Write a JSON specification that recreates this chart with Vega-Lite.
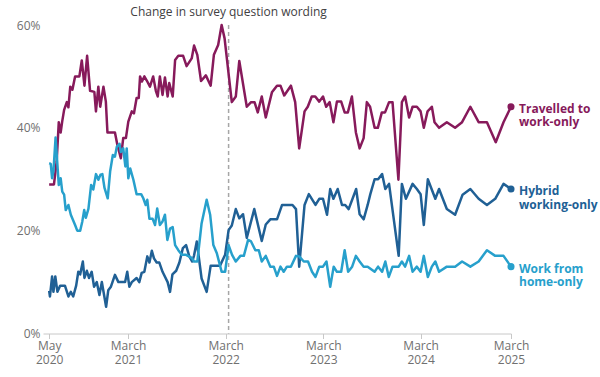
{
  "$schema": "https://vega.github.io/schema/vega-lite/v6.json",
  "width": 468,
  "height": 308.5,
  "autosize": {"type": "none"},
  "padding": {"left": 43, "top": 25, "right": 89, "bottom": 43.5},
  "config": {"view": {"stroke": null}, "font": "Open Sans"},
  "data": {
    "format": {"parse": {"date": "date"}},
    "values": [
      {"series": "Travelled to work-only", "date": "2020-05-10", "value": 29.0},
      {"series": "Travelled to work-only", "date": "2020-05-28", "value": 29.0},
      {"series": "Travelled to work-only", "date": "2020-06-07", "value": 33.4},
      {"series": "Travelled to work-only", "date": "2020-06-15", "value": 41.1},
      {"series": "Travelled to work-only", "date": "2020-06-22", "value": 39.1},
      {"series": "Travelled to work-only", "date": "2020-06-28", "value": 41.3},
      {"series": "Travelled to work-only", "date": "2020-07-05", "value": 43.5},
      {"series": "Travelled to work-only", "date": "2020-07-15", "value": 45.0},
      {"series": "Travelled to work-only", "date": "2020-07-21", "value": 44.0},
      {"series": "Travelled to work-only", "date": "2020-07-28", "value": 48.0},
      {"series": "Travelled to work-only", "date": "2020-08-05", "value": 47.4},
      {"series": "Travelled to work-only", "date": "2020-08-15", "value": 50.0},
      {"series": "Travelled to work-only", "date": "2020-08-31", "value": 50.0},
      {"series": "Travelled to work-only", "date": "2020-09-09", "value": 53.1},
      {"series": "Travelled to work-only", "date": "2020-09-19", "value": 48.2},
      {"series": "Travelled to work-only", "date": "2020-09-29", "value": 54.0},
      {"series": "Travelled to work-only", "date": "2020-10-10", "value": 47.2},
      {"series": "Travelled to work-only", "date": "2020-10-26", "value": 47.0},
      {"series": "Travelled to work-only", "date": "2020-11-01", "value": 43.2},
      {"series": "Travelled to work-only", "date": "2020-11-10", "value": 48.0},
      {"series": "Travelled to work-only", "date": "2020-11-17", "value": 44.1},
      {"series": "Travelled to work-only", "date": "2020-11-29", "value": 48.0},
      {"series": "Travelled to work-only", "date": "2020-12-08", "value": 45.1},
      {"series": "Travelled to work-only", "date": "2020-12-14", "value": 39.1},
      {"series": "Travelled to work-only", "date": "2021-01-11", "value": 39.1},
      {"series": "Travelled to work-only", "date": "2021-01-20", "value": 36.7},
      {"series": "Travelled to work-only", "date": "2021-02-02", "value": 34.1},
      {"series": "Travelled to work-only", "date": "2021-02-11", "value": 38.0},
      {"series": "Travelled to work-only", "date": "2021-02-21", "value": 38.0},
      {"series": "Travelled to work-only", "date": "2021-03-02", "value": 41.2},
      {"series": "Travelled to work-only", "date": "2021-03-15", "value": 43.2},
      {"series": "Travelled to work-only", "date": "2021-03-23", "value": 42.8},
      {"series": "Travelled to work-only", "date": "2021-04-02", "value": 45.8},
      {"series": "Travelled to work-only", "date": "2021-04-10", "value": 45.8},
      {"series": "Travelled to work-only", "date": "2021-04-15", "value": 50.0},
      {"series": "Travelled to work-only", "date": "2021-04-22", "value": 49.0},
      {"series": "Travelled to work-only", "date": "2021-05-01", "value": 50.0},
      {"series": "Travelled to work-only", "date": "2021-05-10", "value": 49.2},
      {"series": "Travelled to work-only", "date": "2021-05-22", "value": 48.0},
      {"series": "Travelled to work-only", "date": "2021-06-03", "value": 50.0},
      {"series": "Travelled to work-only", "date": "2021-06-13", "value": 47.2},
      {"series": "Travelled to work-only", "date": "2021-06-20", "value": 46.1},
      {"series": "Travelled to work-only", "date": "2021-06-28", "value": 50.0},
      {"series": "Travelled to work-only", "date": "2021-07-08", "value": 46.4},
      {"series": "Travelled to work-only", "date": "2021-07-17", "value": 49.8},
      {"series": "Travelled to work-only", "date": "2021-07-27", "value": 46.1},
      {"series": "Travelled to work-only", "date": "2021-08-02", "value": 48.7},
      {"series": "Travelled to work-only", "date": "2021-08-15", "value": 46.1},
      {"series": "Travelled to work-only", "date": "2021-08-24", "value": 53.2},
      {"series": "Travelled to work-only", "date": "2021-09-05", "value": 54.0},
      {"series": "Travelled to work-only", "date": "2021-09-23", "value": 54.0},
      {"series": "Travelled to work-only", "date": "2021-10-06", "value": 52.0},
      {"series": "Travelled to work-only", "date": "2021-10-25", "value": 53.5},
      {"series": "Travelled to work-only", "date": "2021-11-03", "value": 56.0},
      {"series": "Travelled to work-only", "date": "2021-11-15", "value": 54.2},
      {"series": "Travelled to work-only", "date": "2021-11-29", "value": 49.1},
      {"series": "Travelled to work-only", "date": "2021-12-17", "value": 50.2},
      {"series": "Travelled to work-only", "date": "2022-01-04", "value": 48.2},
      {"series": "Travelled to work-only", "date": "2022-01-16", "value": 54.2},
      {"series": "Travelled to work-only", "date": "2022-02-01", "value": 56.1},
      {"series": "Travelled to work-only", "date": "2022-02-14", "value": 60.0},
      {"series": "Travelled to work-only", "date": "2022-02-25", "value": 57.4},
      {"series": "Travelled to work-only", "date": "2022-03-24", "value": 45.0},
      {"series": "Travelled to work-only", "date": "2022-04-08", "value": 46.1},
      {"series": "Travelled to work-only", "date": "2022-04-21", "value": 53.0},
      {"series": "Travelled to work-only", "date": "2022-05-19", "value": 44.1},
      {"series": "Travelled to work-only", "date": "2022-06-04", "value": 45.0},
      {"series": "Travelled to work-only", "date": "2022-06-17", "value": 45.0},
      {"series": "Travelled to work-only", "date": "2022-06-29", "value": 43.0},
      {"series": "Travelled to work-only", "date": "2022-07-14", "value": 46.1},
      {"series": "Travelled to work-only", "date": "2022-07-29", "value": 42.0},
      {"series": "Travelled to work-only", "date": "2022-08-21", "value": 46.9},
      {"series": "Travelled to work-only", "date": "2022-09-09", "value": 48.2},
      {"series": "Travelled to work-only", "date": "2022-09-22", "value": 48.2},
      {"series": "Travelled to work-only", "date": "2022-10-06", "value": 46.3},
      {"series": "Travelled to work-only", "date": "2022-10-31", "value": 48.2},
      {"series": "Travelled to work-only", "date": "2022-11-16", "value": 45.0},
      {"series": "Travelled to work-only", "date": "2022-12-01", "value": 36.0},
      {"series": "Travelled to work-only", "date": "2022-12-21", "value": 43.2},
      {"series": "Travelled to work-only", "date": "2023-01-02", "value": 44.1},
      {"series": "Travelled to work-only", "date": "2023-01-17", "value": 46.1},
      {"series": "Travelled to work-only", "date": "2023-01-30", "value": 46.1},
      {"series": "Travelled to work-only", "date": "2023-02-14", "value": 45.1},
      {"series": "Travelled to work-only", "date": "2023-02-28", "value": 46.1},
      {"series": "Travelled to work-only", "date": "2023-03-12", "value": 44.1},
      {"series": "Travelled to work-only", "date": "2023-03-25", "value": 45.0},
      {"series": "Travelled to work-only", "date": "2023-04-08", "value": 41.1},
      {"series": "Travelled to work-only", "date": "2023-04-21", "value": 45.1},
      {"series": "Travelled to work-only", "date": "2023-05-07", "value": 45.1},
      {"series": "Travelled to work-only", "date": "2023-05-20", "value": 43.0},
      {"series": "Travelled to work-only", "date": "2023-06-01", "value": 43.0},
      {"series": "Travelled to work-only", "date": "2023-06-16", "value": 46.1},
      {"series": "Travelled to work-only", "date": "2023-07-01", "value": 39.1},
      {"series": "Travelled to work-only", "date": "2023-07-15", "value": 36.0},
      {"series": "Travelled to work-only", "date": "2023-07-30", "value": 38.0},
      {"series": "Travelled to work-only", "date": "2023-08-11", "value": 45.0},
      {"series": "Travelled to work-only", "date": "2023-08-23", "value": 44.1},
      {"series": "Travelled to work-only", "date": "2023-09-09", "value": 40.0},
      {"series": "Travelled to work-only", "date": "2023-09-21", "value": 40.0},
      {"series": "Travelled to work-only", "date": "2023-10-06", "value": 43.0},
      {"series": "Travelled to work-only", "date": "2023-10-18", "value": 43.0},
      {"series": "Travelled to work-only", "date": "2023-11-02", "value": 45.0},
      {"series": "Travelled to work-only", "date": "2023-11-15", "value": 45.0},
      {"series": "Travelled to work-only", "date": "2023-12-07", "value": 29.9},
      {"series": "Travelled to work-only", "date": "2023-12-20", "value": 45.0},
      {"series": "Travelled to work-only", "date": "2024-01-01", "value": 46.1},
      {"series": "Travelled to work-only", "date": "2024-01-16", "value": 42.0},
      {"series": "Travelled to work-only", "date": "2024-01-29", "value": 44.1},
      {"series": "Travelled to work-only", "date": "2024-02-14", "value": 44.1},
      {"series": "Travelled to work-only", "date": "2024-02-28", "value": 43.2},
      {"series": "Travelled to work-only", "date": "2024-03-11", "value": 40.0},
      {"series": "Travelled to work-only", "date": "2024-03-25", "value": 43.2},
      {"series": "Travelled to work-only", "date": "2024-04-10", "value": 44.1},
      {"series": "Travelled to work-only", "date": "2024-04-20", "value": 41.1},
      {"series": "Travelled to work-only", "date": "2024-05-07", "value": 40.0},
      {"series": "Travelled to work-only", "date": "2024-06-05", "value": 41.1},
      {"series": "Travelled to work-only", "date": "2024-07-06", "value": 40.0},
      {"series": "Travelled to work-only", "date": "2024-08-01", "value": 41.1},
      {"series": "Travelled to work-only", "date": "2024-09-01", "value": 44.1},
      {"series": "Travelled to work-only", "date": "2024-10-02", "value": 41.1},
      {"series": "Travelled to work-only", "date": "2024-11-02", "value": 41.1},
      {"series": "Travelled to work-only", "date": "2024-12-05", "value": 37.2},
      {"series": "Travelled to work-only", "date": "2025-01-03", "value": 41.1},
      {"series": "Travelled to work-only", "date": "2025-01-31", "value": 44.1},

      {"series": "Hybrid working-only", "date": "2020-05-10", "value": 8.3},
      {"series": "Hybrid working-only", "date": "2020-05-13", "value": 7.2},
      {"series": "Hybrid working-only", "date": "2020-05-21", "value": 11.1},
      {"series": "Hybrid working-only", "date": "2020-05-26", "value": 8.1},
      {"series": "Hybrid working-only", "date": "2020-06-02", "value": 11.1},
      {"series": "Hybrid working-only", "date": "2020-06-10", "value": 8.1},
      {"series": "Hybrid working-only", "date": "2020-06-20", "value": 9.3},
      {"series": "Hybrid working-only", "date": "2020-07-08", "value": 9.3},
      {"series": "Hybrid working-only", "date": "2020-07-21", "value": 7.2},
      {"series": "Hybrid working-only", "date": "2020-07-30", "value": 8.1},
      {"series": "Hybrid working-only", "date": "2020-08-08", "value": 7.2},
      {"series": "Hybrid working-only", "date": "2020-08-19", "value": 9.3},
      {"series": "Hybrid working-only", "date": "2020-08-27", "value": 12.0},
      {"series": "Hybrid working-only", "date": "2020-09-03", "value": 11.5},
      {"series": "Hybrid working-only", "date": "2020-09-13", "value": 14.0},
      {"series": "Hybrid working-only", "date": "2020-09-19", "value": 10.8},
      {"series": "Hybrid working-only", "date": "2020-09-28", "value": 12.2},
      {"series": "Hybrid working-only", "date": "2020-10-06", "value": 10.8},
      {"series": "Hybrid working-only", "date": "2020-10-16", "value": 12.0},
      {"series": "Hybrid working-only", "date": "2020-10-25", "value": 9.1},
      {"series": "Hybrid working-only", "date": "2020-11-04", "value": 10.0},
      {"series": "Hybrid working-only", "date": "2020-11-14", "value": 7.5},
      {"series": "Hybrid working-only", "date": "2020-11-23", "value": 10.0},
      {"series": "Hybrid working-only", "date": "2020-12-09", "value": 5.2},
      {"series": "Hybrid working-only", "date": "2020-12-17", "value": 8.4},
      {"series": "Hybrid working-only", "date": "2020-12-27", "value": 9.1},
      {"series": "Hybrid working-only", "date": "2021-01-11", "value": 11.4},
      {"series": "Hybrid working-only", "date": "2021-01-24", "value": 10.0},
      {"series": "Hybrid working-only", "date": "2021-02-18", "value": 10.0},
      {"series": "Hybrid working-only", "date": "2021-02-26", "value": 12.0},
      {"series": "Hybrid working-only", "date": "2021-03-06", "value": 9.1},
      {"series": "Hybrid working-only", "date": "2021-03-15", "value": 10.0},
      {"series": "Hybrid working-only", "date": "2021-04-02", "value": 10.8},
      {"series": "Hybrid working-only", "date": "2021-04-12", "value": 10.0},
      {"series": "Hybrid working-only", "date": "2021-04-21", "value": 11.8},
      {"series": "Hybrid working-only", "date": "2021-05-01", "value": 12.0},
      {"series": "Hybrid working-only", "date": "2021-05-12", "value": 15.0},
      {"series": "Hybrid working-only", "date": "2021-05-20", "value": 13.8},
      {"series": "Hybrid working-only", "date": "2021-05-29", "value": 16.1},
      {"series": "Hybrid working-only", "date": "2021-06-06", "value": 14.6},
      {"series": "Hybrid working-only", "date": "2021-06-16", "value": 13.8},
      {"series": "Hybrid working-only", "date": "2021-06-26", "value": 13.8},
      {"series": "Hybrid working-only", "date": "2021-07-08", "value": 12.0},
      {"series": "Hybrid working-only", "date": "2021-07-27", "value": 10.0},
      {"series": "Hybrid working-only", "date": "2021-08-05", "value": 8.1},
      {"series": "Hybrid working-only", "date": "2021-08-14", "value": 11.5},
      {"series": "Hybrid working-only", "date": "2021-08-28", "value": 12.2},
      {"series": "Hybrid working-only", "date": "2021-09-09", "value": 13.8},
      {"series": "Hybrid working-only", "date": "2021-09-22", "value": 16.6},
      {"series": "Hybrid working-only", "date": "2021-10-04", "value": 17.2},
      {"series": "Hybrid working-only", "date": "2021-10-16", "value": 15.0},
      {"series": "Hybrid working-only", "date": "2021-10-27", "value": 14.0},
      {"series": "Hybrid working-only", "date": "2021-11-03", "value": 15.2},
      {"series": "Hybrid working-only", "date": "2021-11-13", "value": 17.9},
      {"series": "Hybrid working-only", "date": "2021-12-01", "value": 10.7},
      {"series": "Hybrid working-only", "date": "2021-12-20", "value": 8.1},
      {"series": "Hybrid working-only", "date": "2022-01-04", "value": 13.2},
      {"series": "Hybrid working-only", "date": "2022-02-08", "value": 13.2},
      {"series": "Hybrid working-only", "date": "2022-02-27", "value": 15.3},
      {"series": "Hybrid working-only", "date": "2022-03-12", "value": 20.1},
      {"series": "Hybrid working-only", "date": "2022-03-24", "value": 21.0},
      {"series": "Hybrid working-only", "date": "2022-04-08", "value": 24.2},
      {"series": "Hybrid working-only", "date": "2022-04-21", "value": 22.4},
      {"series": "Hybrid working-only", "date": "2022-05-05", "value": 23.2},
      {"series": "Hybrid working-only", "date": "2022-05-19", "value": 18.6},
      {"series": "Hybrid working-only", "date": "2022-06-16", "value": 24.2},
      {"series": "Hybrid working-only", "date": "2022-07-14", "value": 18.0},
      {"series": "Hybrid working-only", "date": "2022-07-29", "value": 21.2},
      {"series": "Hybrid working-only", "date": "2022-08-15", "value": 22.2},
      {"series": "Hybrid working-only", "date": "2022-09-09", "value": 22.2},
      {"series": "Hybrid working-only", "date": "2022-09-28", "value": 25.0},
      {"series": "Hybrid working-only", "date": "2022-10-16", "value": 25.0},
      {"series": "Hybrid working-only", "date": "2022-11-06", "value": 25.0},
      {"series": "Hybrid working-only", "date": "2022-11-19", "value": 24.2},
      {"series": "Hybrid working-only", "date": "2022-12-01", "value": 13.0},
      {"series": "Hybrid working-only", "date": "2022-12-21", "value": 25.0},
      {"series": "Hybrid working-only", "date": "2023-01-06", "value": 27.1},
      {"series": "Hybrid working-only", "date": "2023-01-31", "value": 25.0},
      {"series": "Hybrid working-only", "date": "2023-02-14", "value": 26.2},
      {"series": "Hybrid working-only", "date": "2023-02-28", "value": 26.2},
      {"series": "Hybrid working-only", "date": "2023-03-15", "value": 23.1},
      {"series": "Hybrid working-only", "date": "2023-03-27", "value": 28.1},
      {"series": "Hybrid working-only", "date": "2023-04-08", "value": 26.2},
      {"series": "Hybrid working-only", "date": "2023-04-24", "value": 28.1},
      {"series": "Hybrid working-only", "date": "2023-05-10", "value": 25.0},
      {"series": "Hybrid working-only", "date": "2023-05-22", "value": 25.0},
      {"series": "Hybrid working-only", "date": "2023-06-04", "value": 24.2},
      {"series": "Hybrid working-only", "date": "2023-07-02", "value": 28.1},
      {"series": "Hybrid working-only", "date": "2023-07-15", "value": 23.2},
      {"series": "Hybrid working-only", "date": "2023-07-30", "value": 22.2},
      {"series": "Hybrid working-only", "date": "2023-08-14", "value": 25.0},
      {"series": "Hybrid working-only", "date": "2023-08-24", "value": 27.1},
      {"series": "Hybrid working-only", "date": "2023-09-09", "value": 30.0},
      {"series": "Hybrid working-only", "date": "2023-09-22", "value": 30.0},
      {"series": "Hybrid working-only", "date": "2023-10-07", "value": 31.0},
      {"series": "Hybrid working-only", "date": "2023-10-19", "value": 28.1},
      {"series": "Hybrid working-only", "date": "2023-11-02", "value": 29.1},
      {"series": "Hybrid working-only", "date": "2023-12-08", "value": 15.1},
      {"series": "Hybrid working-only", "date": "2023-12-20", "value": 29.1},
      {"series": "Hybrid working-only", "date": "2024-01-04", "value": 26.2},
      {"series": "Hybrid working-only", "date": "2024-01-29", "value": 29.1},
      {"series": "Hybrid working-only", "date": "2024-02-14", "value": 28.1},
      {"series": "Hybrid working-only", "date": "2024-02-28", "value": 27.1},
      {"series": "Hybrid working-only", "date": "2024-03-11", "value": 21.1},
      {"series": "Hybrid working-only", "date": "2024-03-26", "value": 30.0},
      {"series": "Hybrid working-only", "date": "2024-04-23", "value": 26.2},
      {"series": "Hybrid working-only", "date": "2024-05-07", "value": 28.1},
      {"series": "Hybrid working-only", "date": "2024-06-05", "value": 24.2},
      {"series": "Hybrid working-only", "date": "2024-07-06", "value": 23.1},
      {"series": "Hybrid working-only", "date": "2024-08-03", "value": 27.0},
      {"series": "Hybrid working-only", "date": "2024-09-01", "value": 28.1},
      {"series": "Hybrid working-only", "date": "2024-10-02", "value": 26.2},
      {"series": "Hybrid working-only", "date": "2024-11-02", "value": 25.0},
      {"series": "Hybrid working-only", "date": "2024-12-03", "value": 26.2},
      {"series": "Hybrid working-only", "date": "2025-01-03", "value": 29.1},
      {"series": "Hybrid working-only", "date": "2025-01-31", "value": 28.1},

      {"series": "Work from home-only", "date": "2020-05-10", "value": 33.1},
      {"series": "Work from home-only", "date": "2020-05-16", "value": 33.0},
      {"series": "Work from home-only", "date": "2020-05-21", "value": 30.2},
      {"series": "Work from home-only", "date": "2020-05-26", "value": 31.5},
      {"series": "Work from home-only", "date": "2020-06-03", "value": 38.1},
      {"series": "Work from home-only", "date": "2020-06-15", "value": 28.9},
      {"series": "Work from home-only", "date": "2020-06-22", "value": 30.2},
      {"series": "Work from home-only", "date": "2020-06-28", "value": 27.6},
      {"series": "Work from home-only", "date": "2020-07-05", "value": 27.0},
      {"series": "Work from home-only", "date": "2020-07-11", "value": 24.0},
      {"series": "Work from home-only", "date": "2020-07-21", "value": 25.0},
      {"series": "Work from home-only", "date": "2020-07-30", "value": 23.1},
      {"series": "Work from home-only", "date": "2020-08-15", "value": 21.1},
      {"series": "Work from home-only", "date": "2020-08-23", "value": 20.0},
      {"series": "Work from home-only", "date": "2020-09-03", "value": 20.0},
      {"series": "Work from home-only", "date": "2020-09-11", "value": 21.8},
      {"series": "Work from home-only", "date": "2020-09-18", "value": 24.0},
      {"series": "Work from home-only", "date": "2020-09-24", "value": 22.5},
      {"series": "Work from home-only", "date": "2020-10-04", "value": 24.3},
      {"series": "Work from home-only", "date": "2020-10-14", "value": 28.9},
      {"series": "Work from home-only", "date": "2020-10-22", "value": 28.0},
      {"series": "Work from home-only", "date": "2020-11-01", "value": 31.0},
      {"series": "Work from home-only", "date": "2020-11-10", "value": 29.9},
      {"series": "Work from home-only", "date": "2020-11-18", "value": 30.9},
      {"series": "Work from home-only", "date": "2020-11-25", "value": 31.0},
      {"series": "Work from home-only", "date": "2020-12-03", "value": 28.3},
      {"series": "Work from home-only", "date": "2020-12-15", "value": 26.3},
      {"series": "Work from home-only", "date": "2020-12-24", "value": 31.5},
      {"series": "Work from home-only", "date": "2021-01-03", "value": 34.7},
      {"series": "Work from home-only", "date": "2021-01-11", "value": 34.4},
      {"series": "Work from home-only", "date": "2021-01-18", "value": 36.3},
      {"series": "Work from home-only", "date": "2021-01-28", "value": 36.9},
      {"series": "Work from home-only", "date": "2021-02-02", "value": 35.3},
      {"series": "Work from home-only", "date": "2021-02-11", "value": 36.0},
      {"series": "Work from home-only", "date": "2021-02-19", "value": 32.5},
      {"series": "Work from home-only", "date": "2021-02-24", "value": 36.0},
      {"series": "Work from home-only", "date": "2021-03-02", "value": 30.2},
      {"series": "Work from home-only", "date": "2021-03-09", "value": 32.1},
      {"series": "Work from home-only", "date": "2021-03-21", "value": 29.9},
      {"series": "Work from home-only", "date": "2021-04-02", "value": 27.1},
      {"series": "Work from home-only", "date": "2021-04-19", "value": 27.1},
      {"series": "Work from home-only", "date": "2021-04-27", "value": 26.3},
      {"series": "Work from home-only", "date": "2021-05-06", "value": 25.0},
      {"series": "Work from home-only", "date": "2021-05-12", "value": 26.0},
      {"series": "Work from home-only", "date": "2021-05-20", "value": 22.3},
      {"series": "Work from home-only", "date": "2021-06-01", "value": 22.3},
      {"series": "Work from home-only", "date": "2021-06-10", "value": 21.1},
      {"series": "Work from home-only", "date": "2021-06-18", "value": 24.3},
      {"series": "Work from home-only", "date": "2021-06-28", "value": 21.1},
      {"series": "Work from home-only", "date": "2021-07-08", "value": 21.8},
      {"series": "Work from home-only", "date": "2021-07-17", "value": 23.1},
      {"series": "Work from home-only", "date": "2021-07-26", "value": 18.2},
      {"series": "Work from home-only", "date": "2021-08-05", "value": 20.4},
      {"series": "Work from home-only", "date": "2021-08-15", "value": 20.7},
      {"series": "Work from home-only", "date": "2021-08-24", "value": 17.2},
      {"series": "Work from home-only", "date": "2021-09-05", "value": 16.2},
      {"series": "Work from home-only", "date": "2021-09-18", "value": 15.3},
      {"series": "Work from home-only", "date": "2021-10-04", "value": 15.3},
      {"series": "Work from home-only", "date": "2021-10-25", "value": 14.7},
      {"series": "Work from home-only", "date": "2021-11-03", "value": 14.0},
      {"series": "Work from home-only", "date": "2021-11-15", "value": 14.0},
      {"series": "Work from home-only", "date": "2021-12-01", "value": 21.4},
      {"series": "Work from home-only", "date": "2021-12-20", "value": 26.0},
      {"series": "Work from home-only", "date": "2022-01-02", "value": 23.1},
      {"series": "Work from home-only", "date": "2022-01-14", "value": 17.2},
      {"series": "Work from home-only", "date": "2022-01-27", "value": 15.6},
      {"series": "Work from home-only", "date": "2022-02-14", "value": 12.0},
      {"series": "Work from home-only", "date": "2022-02-27", "value": 12.0},
      {"series": "Work from home-only", "date": "2022-03-12", "value": 17.2},
      {"series": "Work from home-only", "date": "2022-03-25", "value": 15.3},
      {"series": "Work from home-only", "date": "2022-04-08", "value": 14.0},
      {"series": "Work from home-only", "date": "2022-04-25", "value": 15.1},
      {"series": "Work from home-only", "date": "2022-05-08", "value": 15.1},
      {"series": "Work from home-only", "date": "2022-05-24", "value": 18.2},
      {"series": "Work from home-only", "date": "2022-06-04", "value": 17.9},
      {"series": "Work from home-only", "date": "2022-06-20", "value": 16.2},
      {"series": "Work from home-only", "date": "2022-07-03", "value": 16.2},
      {"series": "Work from home-only", "date": "2022-07-14", "value": 14.0},
      {"series": "Work from home-only", "date": "2022-07-29", "value": 15.1},
      {"series": "Work from home-only", "date": "2022-08-15", "value": 13.0},
      {"series": "Work from home-only", "date": "2022-08-28", "value": 13.0},
      {"series": "Work from home-only", "date": "2022-09-09", "value": 11.2},
      {"series": "Work from home-only", "date": "2022-09-22", "value": 13.0},
      {"series": "Work from home-only", "date": "2022-10-04", "value": 12.0},
      {"series": "Work from home-only", "date": "2022-10-16", "value": 13.0},
      {"series": "Work from home-only", "date": "2022-10-31", "value": 13.0},
      {"series": "Work from home-only", "date": "2022-11-19", "value": 15.1},
      {"series": "Work from home-only", "date": "2022-12-01", "value": 15.0},
      {"series": "Work from home-only", "date": "2022-12-18", "value": 14.0},
      {"series": "Work from home-only", "date": "2023-01-03", "value": 14.0},
      {"series": "Work from home-only", "date": "2023-01-18", "value": 12.0},
      {"series": "Work from home-only", "date": "2023-01-31", "value": 11.0},
      {"series": "Work from home-only", "date": "2023-02-14", "value": 13.0},
      {"series": "Work from home-only", "date": "2023-02-28", "value": 13.0},
      {"series": "Work from home-only", "date": "2023-03-13", "value": 14.0},
      {"series": "Work from home-only", "date": "2023-03-27", "value": 9.1},
      {"series": "Work from home-only", "date": "2023-04-09", "value": 13.0},
      {"series": "Work from home-only", "date": "2023-04-21", "value": 12.0},
      {"series": "Work from home-only", "date": "2023-05-07", "value": 12.0},
      {"series": "Work from home-only", "date": "2023-05-20", "value": 16.2},
      {"series": "Work from home-only", "date": "2023-06-02", "value": 12.0},
      {"series": "Work from home-only", "date": "2023-06-17", "value": 13.0},
      {"series": "Work from home-only", "date": "2023-07-01", "value": 15.1},
      {"series": "Work from home-only", "date": "2023-07-15", "value": 14.0},
      {"series": "Work from home-only", "date": "2023-07-30", "value": 13.0},
      {"series": "Work from home-only", "date": "2023-08-14", "value": 13.0},
      {"series": "Work from home-only", "date": "2023-09-09", "value": 12.0},
      {"series": "Work from home-only", "date": "2023-09-22", "value": 13.0},
      {"series": "Work from home-only", "date": "2023-10-07", "value": 12.0},
      {"series": "Work from home-only", "date": "2023-10-19", "value": 14.0},
      {"series": "Work from home-only", "date": "2023-11-01", "value": 11.0},
      {"series": "Work from home-only", "date": "2023-11-15", "value": 13.0},
      {"series": "Work from home-only", "date": "2023-12-08", "value": 13.0},
      {"series": "Work from home-only", "date": "2023-12-20", "value": 14.0},
      {"series": "Work from home-only", "date": "2024-01-01", "value": 13.0},
      {"series": "Work from home-only", "date": "2024-01-16", "value": 15.1},
      {"series": "Work from home-only", "date": "2024-01-29", "value": 12.0},
      {"series": "Work from home-only", "date": "2024-02-14", "value": 13.0},
      {"series": "Work from home-only", "date": "2024-02-28", "value": 12.0},
      {"series": "Work from home-only", "date": "2024-03-11", "value": 15.1},
      {"series": "Work from home-only", "date": "2024-03-26", "value": 11.0},
      {"series": "Work from home-only", "date": "2024-04-10", "value": 13.0},
      {"series": "Work from home-only", "date": "2024-04-23", "value": 14.0},
      {"series": "Work from home-only", "date": "2024-05-07", "value": 12.0},
      {"series": "Work from home-only", "date": "2024-06-05", "value": 13.0},
      {"series": "Work from home-only", "date": "2024-07-06", "value": 13.0},
      {"series": "Work from home-only", "date": "2024-08-01", "value": 14.0},
      {"series": "Work from home-only", "date": "2024-09-01", "value": 13.0},
      {"series": "Work from home-only", "date": "2024-10-02", "value": 14.0},
      {"series": "Work from home-only", "date": "2024-11-02", "value": 16.2},
      {"series": "Work from home-only", "date": "2024-12-03", "value": 15.1},
      {"series": "Work from home-only", "date": "2025-01-03", "value": 15.1},
      {"series": "Work from home-only", "date": "2025-01-31", "value": 13.0}
    ]
  },
  "encoding": {
    "x": {
      "field": "date",
      "type": "temporal",
      "scale": {"domain": [{"year": 2020, "month": 4, "date": 17}, {"year": 2025, "month": 1, "date": 31}]},
      "axis": {
        "title": null,
        "grid": false,
        "values": [
          {"year": 2020, "month": 5, "date": 10},
          {"year": 2021, "month": 3, "date": 1},
          {"year": 2022, "month": 3, "date": 1},
          {"year": 2023, "month": 3, "date": 1},
          {"year": 2024, "month": 2, "date": 28},
          {"year": 2025, "month": 1, "date": 31}
        ],
        "labelExpr": "[timeFormat(datum.value, '%Y') == '2020' ? 'May' : 'March', timeFormat(datum.value, '%Y')]",
        "domainColor": "#c8c8c8",
        "tickColor": "#c8c8c8",
        "tickSize": 5,
        "labelColor": "#707070",
        "labelFontSize": 12,
        "labelPadding": 2,
        "labelLineHeight": 14,
        "labelOverlap": false,
        "labelFlush": false,
        "labelBound": false
      }
    }
  },
  "layer": [
    {
      "data": {"values": [{"date": "2022-03-12", "note": "Change in survey question wording"}]},
      "mark": {"type": "rule", "color": "#a6a6a6", "strokeWidth": 1.5, "strokeDash": [4, 3]},
      "encoding": {}
    },
    {
      "data": {"values": [{"date": "2022-03-12", "note": "Change in survey question wording"}]},
      "mark": {"type": "text", "dy": -13, "fontSize": 12, "color": "#414042", "baseline": "middle", "align": "center"},
      "encoding": {
        "y": {"datum": 60, "type": "quantitative", "scale": {"domain": [0, 60]}},
        "text": {"field": "note"}
      }
    },
    {
      "mark": {"type": "line", "strokeWidth": 2.5, "strokeJoin": "round"},
      "encoding": {
        "y": {
          "field": "value",
          "type": "quantitative",
          "scale": {"domain": [0, 60]},
          "axis": {
            "title": null,
            "values": [0, 20, 40, 60],
            "labelExpr": "datum.value + '%'",
            "domain": false,
            "ticks": false,
            "gridColor": "#e0e0e0",
            "labelColor": "#707070",
            "labelFontSize": 12,
            "labelPadding": 3
          }
        },
        "color": {
          "field": "series",
          "type": "nominal",
          "scale": {
            "domain": ["Travelled to work-only", "Hybrid working-only", "Work from home-only"],
            "range": ["#871A5B", "#206095", "#27A0CC"]
          },
          "legend": null
        }
      }
    },
    {
      "transform": [
        {"joinaggregate": [{"op": "max", "field": "date", "as": "last"}], "groupby": ["series"]},
        {"filter": "time(datum.date) == time(datum.last)"}
      ],
      "mark": {"type": "circle", "size": 50, "opacity": 1},
      "encoding": {
        "y": {"field": "value", "type": "quantitative", "scale": {"domain": [0, 60]}},
        "color": {"field": "series", "type": "nominal", "legend": null}
      }
    },
    {
      "transform": [
        {"joinaggregate": [{"op": "max", "field": "date", "as": "last"}], "groupby": ["series"]},
        {"filter": "time(datum.date) == time(datum.last)"},
        {"calculate": "datum.series == 'Travelled to work-only' ? ['Travelled to', 'work-only'] : datum.series == 'Hybrid working-only' ? ['Hybrid', 'working-only'] : ['Work from', 'home-only']", "as": "label"}
      ],
      "mark": {"type": "text", "align": "left", "baseline": "middle", "dx": 8, "dy": 2, "fontSize": 12, "fontWeight": "bold", "lineHeight": 13.5},
      "encoding": {
        "y": {"field": "value", "type": "quantitative", "scale": {"domain": [0, 60]}},
        "color": {"field": "series", "type": "nominal", "legend": null},
        "text": {"field": "label"}
      }
    }
  ]
}
